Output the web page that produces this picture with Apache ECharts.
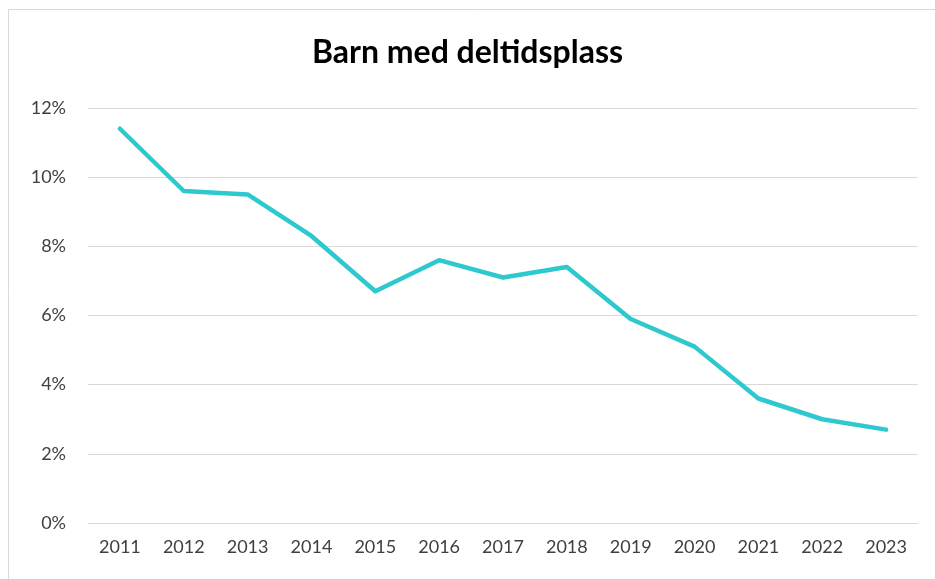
<!DOCTYPE html>
<html>
<head>
<meta charset="utf-8">
<script src="https://cdn.jsdelivr.net/npm/echarts@6/dist/echarts.min.js"></script>
<style>
  html, body { margin: 0; padding: 0; background: #fff; }
  #main { width: 935px; height: 579px; }
</style>
</head>
<body>
<div id="main"></div>
<script>
var years = ['2011', '2012', '2013', '2014', '2015', '2016', '2017', '2018', '2019', '2020', '2021', '2022', '2023'];
var andel = [11.4, 9.6, 9.5, 8.3, 6.7, 7.6, 7.1, 7.4, 5.9, 5.1, 3.6, 3.0, 2.7]; // prosent
var yTicks = [0, 2, 4, 6, 8, 10, 12];

var chart = echarts.init(document.getElementById('main'));
var font = 'Lato, "Open Sans", sans-serif';

chart.setOption({
    animation: false,
    title: {
        text: 'Barn med deltidsplass',
        left: 'center',
        top: 32,
        textStyle: { fontFamily: font, fontSize: 32, fontWeight: 'bold', color: '#000' }
    },
    graphic: [{
        type: 'rect',
        shape: { x: 8.5, y: 9.5, width: 940, height: 590 },
        style: { fill: null, stroke: '#d9d9d9', lineWidth: 1 },
        silent: true
    }],
    grid: { left: 88, right: 17, top: 108, bottom: 56 },
    xAxis: {
        type: 'category',
        data: years,
        boundaryGap: true,
        axisLine: { lineStyle: { color: '#d9d9d9' } },
        axisTick: { show: false },
        axisLabel: { color: '#404040', fontFamily: font, fontSize: 18, margin: 15 }
    },
    yAxis: {
        type: 'value',
        min: yTicks[0],
        max: yTicks[yTicks.length - 1],
        interval: 2,
        axisLine: { show: false },
        axisTick: { show: false },
        splitLine: { lineStyle: { color: '#d9d9d9' } },
        axisLabel: {
            color: '#404040', fontFamily: font, fontSize: 18, margin: 22,
            formatter: function (v) { return v + '%'; }
        }
    },
    series: [{
        type: 'line',
        data: andel,
        symbol: 'none',
        lineStyle: { color: '#2ec8cf', width: 4.5, cap: 'round', join: 'round' }
    }]
});
</script>
</body>
</html>
